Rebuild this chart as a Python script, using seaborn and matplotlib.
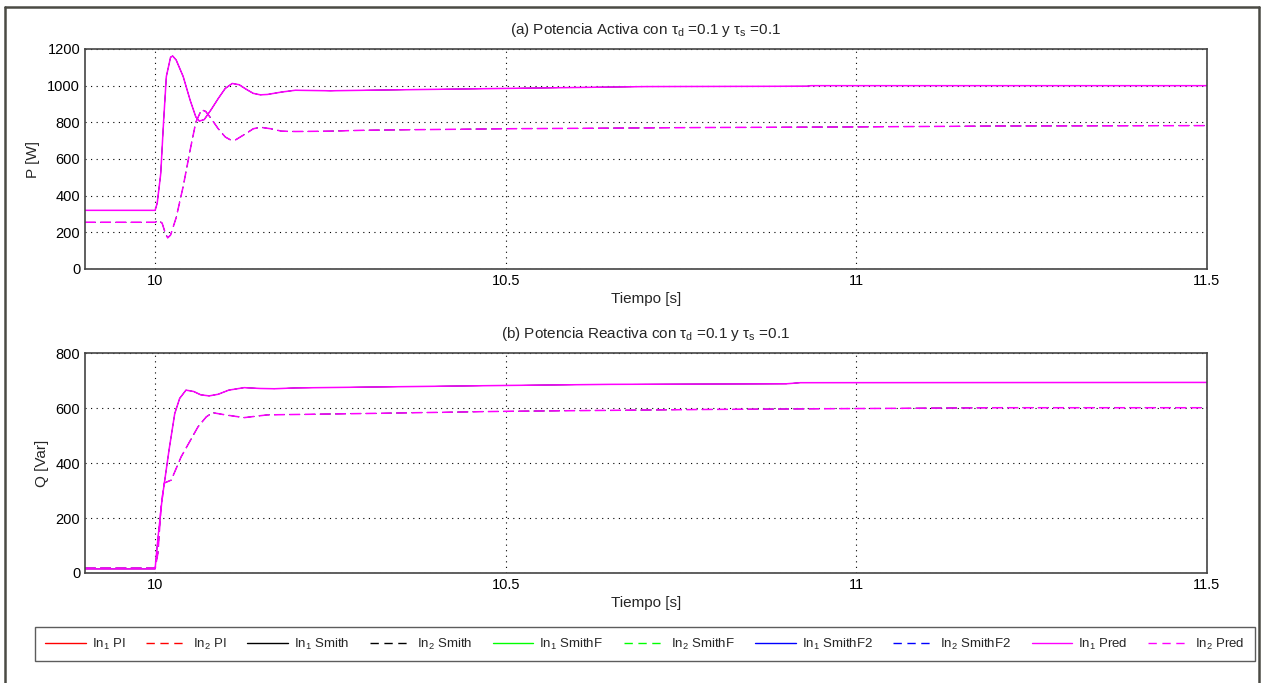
import numpy as np
import pandas as pd
import matplotlib
matplotlib.use("Agg")
import matplotlib.pyplot as plt
from matplotlib.lines import Line2D
import seaborn as sns

# ---- Active power P [W] ----
t_p1 = [9.9, 10.0, 10.003, 10.008, 10.012, 10.016, 10.022, 10.025, 10.03, 10.04, 10.05,
        10.058, 10.063, 10.07, 10.08, 10.09, 10.1, 10.11, 10.12, 10.13, 10.14, 10.15,
        10.16, 10.18, 10.2, 10.25, 10.3, 10.4, 10.5, 10.6, 10.7, 10.93, 10.935, 11.5]
p_in1 = [320, 320, 360, 520, 800, 1050, 1155, 1162, 1140, 1050, 920,
         830, 807, 815, 870, 930, 985, 1012, 1005, 980, 958, 950,
         952, 965, 975, 972, 975, 980, 985, 990, 995, 997, 1000, 1000]

t_p2 = [9.9, 10.0, 10.005, 10.01, 10.015, 10.018, 10.022, 10.03, 10.04, 10.05, 10.058,
        10.066, 10.072, 10.08, 10.09, 10.1, 10.108, 10.115, 10.13, 10.14, 10.15, 10.165,
        10.18, 10.2, 10.25, 10.3, 10.5, 10.8, 11.0, 11.2, 11.5]
p_in2 = [255, 255, 265, 250, 190, 170, 185, 280, 450, 650, 800,
         868, 860, 820, 765, 720, 703, 705, 740, 765, 773, 765,
         752, 750, 752, 757, 765, 772, 775, 780, 782]

# ---- Reactive power Q [Var] ----
t_q1 = [9.9, 10.0, 10.003, 10.005, 10.01, 10.015, 10.02, 10.028, 10.035, 10.044, 10.055,
        10.065, 10.077, 10.09, 10.105, 10.127, 10.15, 10.17, 10.2, 10.3, 10.5, 10.65,
        10.9, 10.92, 11.5]
q_in1 = [15, 15, 100, 150, 270, 360, 450, 580, 635, 665, 660,
         648, 644, 650, 665, 674, 671, 670, 673, 676, 682, 686,
         688, 692, 693]

t_q2 = [9.9, 10.0, 10.004, 10.0085, 10.013, 10.023, 10.037, 10.061, 10.073, 10.082,
        10.1, 10.127, 10.16, 10.3, 10.5, 10.8, 11.0, 11.2, 11.5]
q_in2 = [18, 18, 72, 241, 327, 338, 422, 531, 568, 583,
         575, 565, 575, 580, 588, 595, 598, 601, 601]

controllers = ["PI", "Smith", "SmithF", "SmithF2", "Pred"]
colors = ["#ff0000", "#000000", "#00ff00", "#0000ff", "#ff00ff"]

x_ticks = [10, 10.5, 11, 11.5]
x_ticklabels = ["10", "10.5", "11", "11.5"]

sns.set_theme(style="white")
plt.rcParams["font.family"] = ["Liberation Sans", "DejaVu Sans"]
plt.rcParams["mathtext.fontset"] = "custom"
plt.rcParams["mathtext.rm"] = "Liberation Sans"
plt.rcParams["mathtext.it"] = "Liberation Sans"
plt.rcParams["mathtext.sf"] = "Liberation Sans"
plt.rcParams["font.size"] = 10.5

W, H = 1262, 683
fig = plt.figure(figsize=(W / 100, H / 100), dpi=100)
fig.patch.set_facecolor("white")

ax1 = fig.add_axes([85 / W, 1 - 269 / H, (1207 - 85) / W, 220 / H])
ax2 = fig.add_axes([85 / W, 1 - 573 / H, (1207 - 85) / W, 220 / H])


def draw(ax, t1, v1, t2, v2):
    for name, col in zip(controllers, colors):
        top = name == "Pred"
        lw = 1.1 if top else 0.4
        sns.lineplot(x=t1, y=v1, ax=ax, color=col, linewidth=lw,
                     estimator=None, sort=False, label=f"In$_1$ {name}")
        sns.lineplot(x=t2, y=v2, ax=ax, color=col, linewidth=lw,
                     estimator=None, sort=False, label=f"In$_2$ {name}")
        ax.lines[-1].set_dashes((7 / lw * 1.1, 3 / lw * 1.1))


def style(ax, ylim, yticks, ylabel, title):
    ax.set_xlim(9.9, 11.5)
    ax.set_ylim(*ylim)
    ax.set_xticks(x_ticks)
    ax.set_xticklabels(x_ticklabels)
    ax.set_yticks(yticks)
    ax.set_xlabel("Tiempo [s]", fontsize=11, labelpad=3)
    ax.set_ylabel(ylabel, fontsize=11, labelpad=5)
    ax.set_title(title, fontsize=11, pad=11)
    ax.grid(True, color="black", linestyle=(0, (1, 4)), linewidth=0.8)
    ax.tick_params(direction="in", length=5, width=1, colors="#333333",
                   labelcolor="black", labelsize=10.5, top=False, right=False)
    for s in ax.spines.values():
        s.set_color("#444444")
        s.set_linewidth(1.2)
    leg = ax.get_legend()
    if leg is not None:
        leg.remove()


draw(ax1, t_p1, p_in1, t_p2, p_in2)
draw(ax2, t_q1, q_in1, t_q2, q_in2)

style(ax1, (0, 1200), [0, 200, 400, 600, 800, 1000, 1200], "P [W]",
      r"(a) Potencia Activa con $\tau_{d}$ =0.1 y $\tau_{s}$ =0.1")
style(ax2, (0, 800), [0, 200, 400, 600, 800], "Q [Var]",
      r"(b) Potencia Reactiva con $\tau_{d}$ =0.1 y $\tau_{s}$ =0.1")

# legend entries drawn at a uniform width
handles, labels = ax1.get_legend_handles_labels()
leg_handles = []
for h in handles:
    lh = Line2D([], [], color=h.get_color(), linewidth=1.0,
                linestyle="-" if h.get_linestyle() == "-" else (0, (6, 4)))
    leg_handles.append(lh)
leg = fig.legend(leg_handles, labels, loc="center", ncol=10,
                 bbox_to_anchor=(645 / W, 1 - 644 / H), frameon=True,
                 fancybox=False, edgecolor="#333333", fontsize=9.5,
                 handlelength=3.1, handletextpad=0.45, columnspacing=1.55,
                 borderpad=0.75)
leg.get_frame().set_linewidth(1.0)

# outer frame around the figure
fx0, fx1 = 4.5 / W, 1259 / W
fy0, fy1 = -0.01, 1 - 7 / H
for xs, ys in [([fx0, fx0], [fy0, fy1]), ([fx0, fx1], [fy1, fy1]),
               ([fx1, fx1], [fy1, fy0])]:
    fig.add_artist(Line2D(xs, ys, transform=fig.transFigure,
                          color="#4a4a44", linewidth=1.8))

fig.savefig("out.png", dpi=100, facecolor="white")
